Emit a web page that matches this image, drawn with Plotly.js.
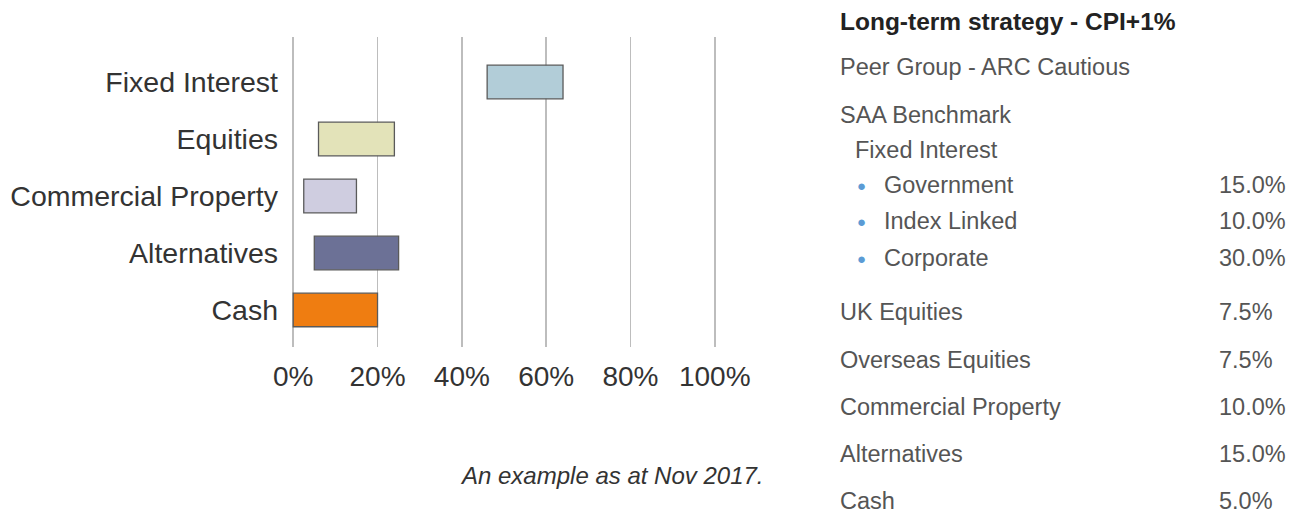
<!DOCTYPE html>
<html>
<head>
<meta charset="utf-8">
<script src="https://cdn.plot.ly/plotly-3.0.1.min.js"></script>
<style>html,body{margin:0;padding:0;background:#fff;}#chart{width:1301px;height:515px;}</style>
</head>
<body>
<div id="chart"></div>
<script>
// ---- data ----
const categories = ["Fixed Interest", "Equities", "Commercial Property", "Alternatives", "Cash"];
const rangeLow  = [46, 6, 2.5, 5, 0];
const rangeHigh = [64, 24, 15, 25, 20];
const barColors = ["#b2cdd8", "#e3e3b9", "#cfcde0", "#6c7196", "#ef7d11"];
const tickValues = [0, 20, 40, 60, 80, 100];
const tickLabels = ["0%", "20%", "40%", "60%", "80%", "100%"];

const panelTitle = "Long-term strategy - CPI+1%";
const peerGroup = "Peer Group - ARC Cautious";
const benchmarkTitle = "SAA Benchmark";
const fixedInterestTitle = "Fixed Interest";
const fixedInterestLabels = ["Government", "Index Linked", "Corporate"];
const fixedInterestValues = ["15.0%", "10.0%", "30.0%"];
const otherLabels = ["UK Equities", "Overseas Equities", "Commercial Property", "Alternatives", "Cash"];
const otherValues = ["7.5%", "7.5%", "10.0%", "15.0%", "5.0%"];
const caption = "An example as at Nov 2017.";

// ---- layout geometry ----
const W = 1301, H = 515;
const M = {l: 289.1, r: 581.8, t: 37, b: 168};
const pw = W - M.l - M.r, ph = H - M.t - M.b;
const px = x => (x - M.l) / pw;
const py = y => 1 - (y - M.t) / ph;

const FONT = "Liberation Sans, Arial, sans-serif";
const textColor = "#555555";

const annotations = [];
function addText(text, x, y, opts) {
  annotations.push(Object.assign({
    text: text, xref: "paper", yref: "paper", x: px(x), y: py(y),
    xanchor: "left", yanchor: "middle", showarrow: false,
    font: {family: FONT, size: 23.5, color: textColor}
  }, opts || {}));
}

addText("<b>" + panelTitle + "</b>", 838, 21, {font: {family: FONT, size: 24.5, color: "#222"}});
addText(peerGroup, 838, 67);
addText(benchmarkTitle, 838, 115);
addText(fixedInterestTitle, 853, 150);
const fiY = [185, 221, 258];
fixedInterestLabels.forEach((lab, i) => {
  addText("\u25CF", 855, fiY[i], {font: {family: FONT, size: 15, color: "#5b9bd5"}});
  addText(lab, 882, fiY[i]);
  addText(fixedInterestValues[i], 1217, fiY[i]);
});
const otY = [312, 360, 407, 454, 501];
otherLabels.forEach((lab, i) => {
  addText(lab, 838, otY[i]);
  addText(otherValues[i], 1217, otY[i]);
});
addText("<i>" + caption + "</i>", 458, 475, {font: {family: FONT, size: 24, color: "#333"}});

const trace = {
  type: "bar",
  orientation: "h",
  y: categories,
  base: rangeLow,
  x: rangeHigh.map((h, i) => h - rangeLow[i]),
  width: 0.59,
  marker: {color: barColors, line: {color: "#5a5a5a", width: 1.3}},
  hoverinfo: "skip"
};

const layout = {
  width: W, height: H,
  margin: M,
  paper_bgcolor: "#fff", plot_bgcolor: "#fff",
  showlegend: false,
  font: {family: FONT, color: "#333"},
  xaxis: {
    range: [-1, 101],
    tickvals: tickValues, ticktext: tickLabels,
    showgrid: true, gridcolor: "#bdbdbd", gridwidth: 1.6,
    zeroline: false, showline: false, ticks: "",
    tickfont: {family: FONT, size: 28, color: "#333"},
    ticklabelstandoff: 10,
    fixedrange: true
  },
  yaxis: {
    type: "category",
    categoryorder: "array", categoryarray: categories,
    range: [4.65, -0.79],
    showgrid: false, zeroline: false, showline: false, ticks: "",
    tickfont: {family: FONT, size: 28.5, color: "#333"},
    ticklabelstandoff: 10,
    fixedrange: true
  },
  annotations: annotations
};

Plotly.newPlot("chart", [trace], layout, {displayModeBar: false, staticPlot: true});
</script>
</body>
</html>
